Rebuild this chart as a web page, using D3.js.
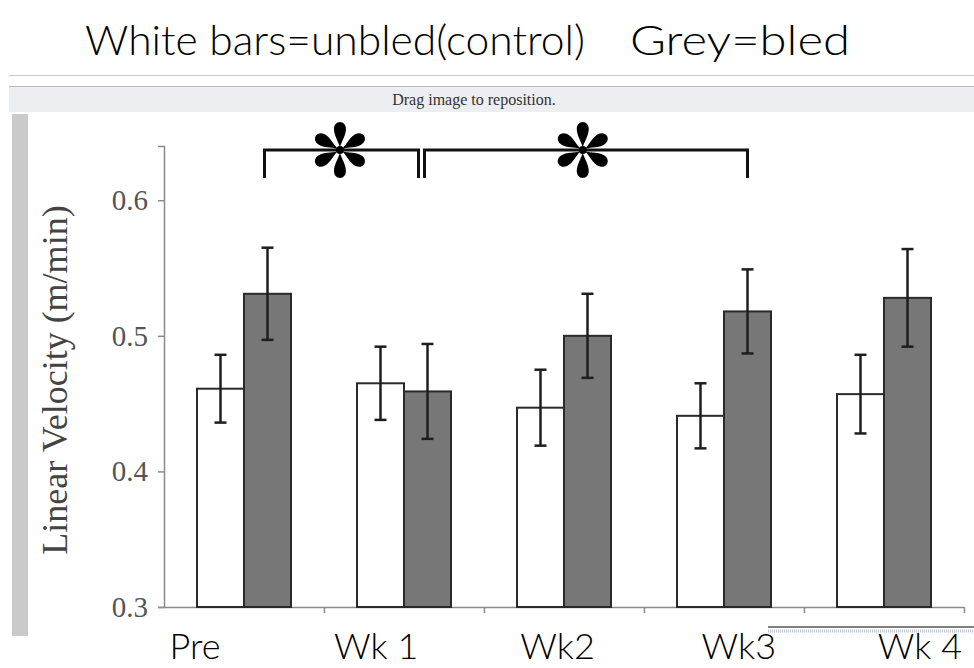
<!DOCTYPE html>
<html>
<head>
<meta charset="utf-8">
<script src="https://cdn.jsdelivr.net/npm/d3@7"></script>
<style>
  body { margin: 0; background: #fff; }
  svg { display: block; }
</style>
</head>
<body>
<div id="plot"></div>
<script>
let categories = ['Pre', 'Wk 1', 'Wk2', 'Wk3', 'Wk 4'];
let unbled = [0.461, 0.465, 0.447, 0.441, 0.457];
let unbledErr = [0.025, 0.027, 0.028, 0.024, 0.029];
let bled = [0.531, 0.459, 0.500, 0.518, 0.528];
let bledErr = [0.034, 0.035, 0.031, 0.031, 0.036];
let yTicks = [0.3, 0.4, 0.5, 0.6];
let sigPairs = [['Pre', 'Wk 1'], ['Wk 1', 'Wk3']];

let W = 974, H = 668;
let svg = d3.select('#plot')
    .append('svg')
        .attr('width', W)
        .attr('height', H);

// handwritten note across the top
let hand = "'Lato', 'Open Sans', sans-serif";
svg.append('text')
    .attr('x', 85).attr('y', 55)
    .attr('textLength', 500).attr('lengthAdjust', 'spacingAndGlyphs')
    .style('font-family', hand).style('font-weight', 300).style('font-size', '42px')
    .text('White bars=unbled(control)');
svg.append('text')
    .attr('x', 630).attr('y', 55)
    .attr('textLength', 220).attr('lengthAdjust', 'spacingAndGlyphs')
    .style('font-family', hand).style('font-weight', 300).style('font-size', '42px')
    .text('Grey=bled');

// screenshot chrome
svg.append('line').attr('x1', 9).attr('x2', W).attr('y1', 75.5).attr('y2', 75.5)
    .attr('stroke', '#c8c8c8');
svg.append('rect').attr('x', 9).attr('y', 86).attr('width', W - 9).attr('height', 26)
    .attr('fill', '#eceef1');
svg.append('line').attr('x1', 9).attr('x2', W).attr('y1', 86.5).attr('y2', 86.5)
    .attr('stroke', '#b8b8b8');
svg.append('text')
    .attr('x', 474).attr('y', 105)
    .attr('text-anchor', 'middle')
    .style('font-family', "'Liberation Serif', serif").style('font-size', '16px')
    .style('fill', '#333')
    .text('Drag image to reposition.');
svg.append('rect').attr('x', 12).attr('y', 114).attr('width', 16).attr('height', 522)
    .attr('fill', '#cacaca');
svg.append('line').attr('x1', 768).attr('x2', W).attr('y1', 627).attr('y2', 627)
    .attr('stroke', '#555').attr('stroke-width', 1.5);
svg.append('line').attr('x1', 768).attr('x2', W).attr('y1', 631).attr('y2', 631)
    .attr('stroke', '#b9c4d0').attr('stroke-width', 3).attr('stroke-dasharray', '1,1');

// scales
let x = d3.scaleBand()
    .domain(categories)
    .range([164, 964])
    .paddingInner(0.4125)
    .paddingOuter(0.20625);
let xSub = d3.scaleBand()
    .domain(['unbled', 'bled'])
    .range([0, x.bandwidth()]);
let xEdge = d3.scaleLinear()
    .domain([0, categories.length])
    .range([164, 964]);
let y = d3.scaleLinear()
    .domain([0.3, 0.64])
    .range([607, 146]);

// y axis
let yAxis = svg.append('g')
    .attr('transform', 'translate(164,0)')
    .call(d3.axisLeft(y).tickValues(yTicks).tickFormat(d3.format('.1f')).tickSize(6).tickPadding(10));
yAxis.selectAll('path, line').attr('stroke', '#8a8a8a').attr('stroke-width', 1.5);
yAxis.selectAll('text')
    .style('font-family', "'Liberation Serif', serif").style('font-size', '29px')
    .style('fill', '#555');

svg.append('text')
    .attr('transform', 'translate(67,380) rotate(-90)')
    .attr('text-anchor', 'middle')
    .style('font-family', "'Liberation Serif', serif").style('font-size', '36px')
    .style('fill', '#444')
    .text('Linear Velocity (m/min)');

// x axis, ticks between groups
let xAxis = svg.append('g')
    .attr('transform', 'translate(0,607)')
    .call(d3.axisBottom(xEdge).tickValues(d3.range(1, categories.length + 1)).tickFormat('').tickSize(6).tickSizeOuter(0));
xAxis.selectAll('path, line').attr('stroke', '#8a8a8a').attr('stroke-width', 1.5);

// bars
let rows = categories.map(function(c, i) {
    return [
        { cat: c, grp: 'unbled', value: unbled[i], err: unbledErr[i] },
        { cat: c, grp: 'bled', value: bled[i], err: bledErr[i] }
    ];
});

let groups = svg.selectAll('.grp')
    .data(rows)
    .enter()
    .append('g')
        .attr('transform', function(d) { return 'translate(' + x(d[0].cat) + ',0)'; });

groups.selectAll('rect')
    .data(function(d) { return d; })
    .enter()
    .append('rect')
        .attr('x', function(d) { return xSub(d.grp); })
        .attr('y', function(d) { return y(d.value); })
        .attr('width', xSub.bandwidth())
        .attr('height', function(d) { return y(0.3) - y(d.value); })
        .attr('fill', function(d) { return d.grp === 'bled' ? '#777777' : '#ffffff'; })
        .attr('stroke', '#2a2a2a')
        .attr('stroke-width', 2);

let cap = 6;
let errs = groups.selectAll('.err')
    .data(function(d) { return d; })
    .enter()
    .append('g')
        .attr('stroke', '#1e1e1e')
        .attr('stroke-width', 2.5);
errs.append('line')
    .attr('x1', function(d) { return xSub(d.grp) + xSub.bandwidth() / 2; })
    .attr('x2', function(d) { return xSub(d.grp) + xSub.bandwidth() / 2; })
    .attr('y1', function(d) { return y(d.value + d.err); })
    .attr('y2', function(d) { return y(d.value - d.err); });
errs.append('line')
    .attr('x1', function(d) { return xSub(d.grp) + xSub.bandwidth() / 2 - cap; })
    .attr('x2', function(d) { return xSub(d.grp) + xSub.bandwidth() / 2 + cap; })
    .attr('y1', function(d) { return y(d.value + d.err); })
    .attr('y2', function(d) { return y(d.value + d.err); });
errs.append('line')
    .attr('x1', function(d) { return xSub(d.grp) + xSub.bandwidth() / 2 - cap; })
    .attr('x2', function(d) { return xSub(d.grp) + xSub.bandwidth() / 2 + cap; })
    .attr('y1', function(d) { return y(d.value - d.err); })
    .attr('y2', function(d) { return y(d.value - d.err); });

// significance brackets with asterisks
let bledCenter = function(c) { return x(c) + xSub('bled') + xSub.bandwidth() / 2; };
let bTop = 150, bLeg = 178;
let petal = 'M0,-3 C2,-9 6,-15 6,-21 C6,-25 3.5,-28 0,-28 C-3.5,-28 -6,-25 -6,-21 C-6,-15 -2,-9 0,-3Z';

sigPairs.forEach(function(p, i) {
    let x1 = bledCenter(p[0]) - 3;
    let x2 = bledCenter(p[1]) - (i === 0 ? 9 : 0);
    svg.append('path')
        .attr('d', 'M' + x1 + ',' + bLeg + 'V' + bTop + 'H' + x2 + 'V' + bLeg)
        .attr('fill', 'none')
        .attr('stroke', '#111')
        .attr('stroke-width', 3);
    let star = svg.append('g')
        .attr('transform', 'translate(' + (x1 + (x2 - x1) * 0.49) + ',' + bTop + ')');
    d3.range(6).forEach(function(k) {
        star.append('path')
            .attr('d', petal)
            .attr('transform', 'rotate(' + (k * 60) + ')')
            .attr('fill', '#000');
    });
    star.append('circle').attr('r', 4).attr('fill', '#000');
});

// handwritten category labels under the axis
let xLab = d3.scalePoint()
    .domain(categories)
    .range([195, 920]);
svg.selectAll('.hlab')
    .data(categories)
    .enter()
    .append('text')
        .attr('x', function(d) { return xLab(d); })
        .attr('y', 659)
        .attr('text-anchor', 'middle')
        .style('font-family', hand).style('font-weight', 300).style('font-size', '36px')
        .style('fill', '#000')
        .text(function(d) { return d; });
</script>
</body>
</html>
